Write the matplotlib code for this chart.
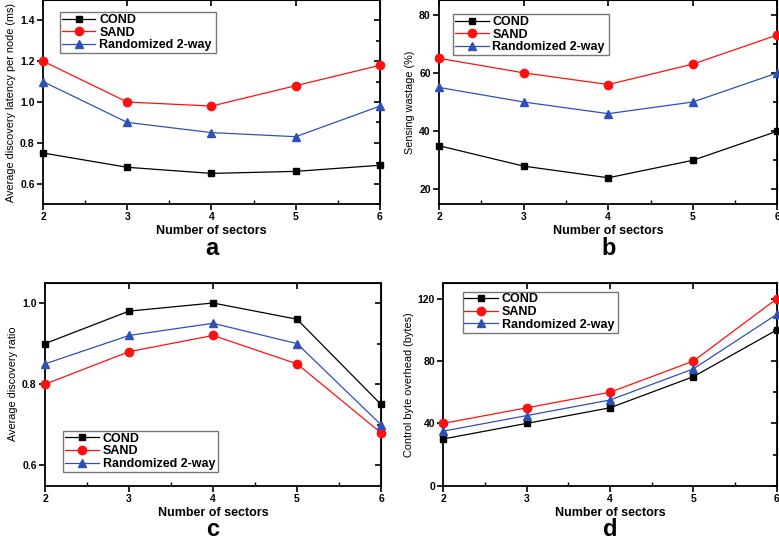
import numpy as np
import matplotlib.pyplot as plt
from matplotlib.ticker import MultipleLocator

plt.rcParams['font.family'] = ['Liberation Sans', 'DejaVu Sans']

sectors = [2, 3, 4, 5, 6]
names = ['COND', 'SAND', 'Randomized 2-way']

# a: average discovery latency per node (ms)
lat_cond = [0.75, 0.68, 0.65, 0.66, 0.69]
lat_sand = [1.20, 1.00, 0.98, 1.08, 1.18]
lat_rand = [1.10, 0.90, 0.85, 0.83, 0.98]

# b: sensing wastage (%)
waste_cond = [35, 28, 24, 30, 40]
waste_sand = [65, 60, 56, 63, 73]
waste_rand = [55, 50, 46, 50, 60]

# c: average discovery ratio
ratio_cond = [0.90, 0.98, 1.00, 0.96, 0.75]
ratio_sand = [0.80, 0.88, 0.92, 0.85, 0.68]
ratio_rand = [0.85, 0.92, 0.95, 0.90, 0.70]

# d: control byte overhead (bytes)
ovh_cond = [30, 40, 50, 70, 100]
ovh_sand = [40, 50, 60, 80, 120]
ovh_rand = [35, 45, 55, 75, 110]

colors = ['black', '#ff1010', '#3050b8']
markers = ['s', 'o', '^']
msizes = [5, 6, 6]

fig = plt.figure(figsize=(7.79, 5.39), dpi=100)

panels = [
    ([0.0552, 0.6215, 0.4326, 0.3785], [lat_cond, lat_sand, lat_rand],
     'Average discovery latency per node (ms)', (0.5, 1.5), 0.2, 0.1,
     '%.1f', 'a', (0.05, 0.94, 0.463, 0), 0.527),
    ([0.5636, 0.6215, 0.4344, 0.3785], [waste_cond, waste_sand, waste_rand],
     'Sensing wastage (%)', (15, 85), 20, 10,
     '%d', 'b', (0.041, 0.931, 0.46, 0), 0.527),
    ([0.0578, 0.099, 0.4313, 0.3765], [ratio_cond, ratio_sand, ratio_rand],
     'Average discovery ratio', (0.55, 1.05), 0.2, 0.1,
     '%.1f', 'c', (0.054, 0.27, 0.46, 0), 0.005),
    ([0.569, 0.099, 0.428, 0.3754], [ovh_cond, ovh_sand, ovh_rand],
     'Control byte overhead (bytes)', (0, 130), 40, 20,
     '%d', 'd', (0.058, 0.959, 0.465, 0), 0.005),
]

for rect, series, ylabel, ylim, major, minor, fmt, letter, legbox, lety in panels:
    ax = fig.add_axes(rect)
    for vals, name, c, m, ms in zip(series, names, colors, markers, msizes):
        ax.plot(sectors, vals, color=c, marker=m, markersize=ms, lw=0.9,
                label=name, clip_on=False, zorder=3)
    ax.set_xlim(2, 6)
    ax.set_ylim(*ylim)
    ax.xaxis.set_major_locator(MultipleLocator(1))
    ax.xaxis.set_minor_locator(MultipleLocator(0.5))
    ax.yaxis.set_major_locator(MultipleLocator(major))
    ax.yaxis.set_minor_locator(MultipleLocator(minor))
    ax.yaxis.set_major_formatter(plt.FormatStrFormatter(fmt))
    ax.tick_params(which='major', direction='out', length=4, width=1.2,
                   labelsize=7.5, pad=2)
    ax.tick_params(axis='x', which='minor', direction='in', length=3, width=1)
    ax.tick_params(axis='y', which='minor', length=0)
    for lab in ax.get_xticklabels() + ax.get_yticklabels():
        lab.set_fontweight('bold')
    for sp in ax.spines.values():
        sp.set_linewidth(1.3)

    # mirrored ticks on right and top, pointing inward
    sy = ax.secondary_yaxis('right')
    sy.yaxis.set_major_locator(MultipleLocator(major))
    sy.yaxis.set_minor_locator(MultipleLocator(minor))
    sy.tick_params(which='both', direction='in', labelright=False, width=1.2)
    sy.tick_params(which='major', length=4)
    sy.tick_params(which='minor', length=3)
    sx = ax.secondary_xaxis('top')
    sx.xaxis.set_major_locator(MultipleLocator(1))
    sx.xaxis.set_minor_locator(MultipleLocator(0.5))
    sx.tick_params(which='both', direction='in', labeltop=False, width=1.2)
    sx.tick_params(which='major', length=4)
    sx.tick_params(which='minor', length=0)

    ax.set_ylabel(ylabel, fontsize=7.8, labelpad=3)
    ax.set_xlabel('Number of sectors', fontsize=9, fontweight='bold', labelpad=2)
    leg = ax.legend(loc='upper left', bbox_to_anchor=legbox, mode='expand',
                    fontsize=9, frameon=True, fancybox=False,
                    handlelength=2.7, borderpad=0.15, labelspacing=0.05,
                    handletextpad=0.3, borderaxespad=0)
    leg.get_frame().set_edgecolor('#555555')
    leg.get_frame().set_linewidth(1.0)
    for t in leg.get_texts():
        t.set_fontweight('bold')
    cx = rect[0] + rect[2] / 2
    fig.text(cx, lety, letter, ha='center', va='baseline',
             fontsize=17, fontweight='bold')

fig.savefig('out.png', dpi=100)
